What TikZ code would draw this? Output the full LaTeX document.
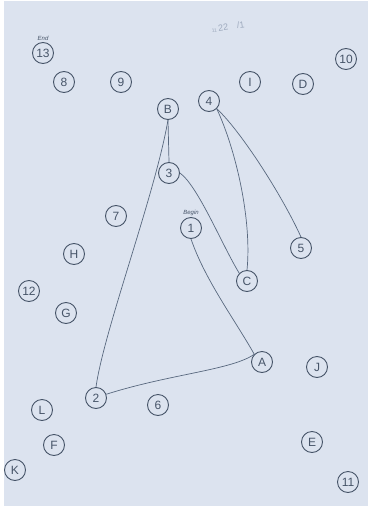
\documentclass[tikz,border=0pt]{standalone}
\usepackage{fontspec}
\setsansfont{Liberation Sans}
\usepackage{xcolor}
\usetikzlibrary{positioning}
\definecolor{papel}{RGB}{220,227,239}
\definecolor{tinta}{RGB}{70,84,104}
\definecolor{lapis}{RGB}{88,104,126}
\definecolor{apagado}{RGB}{158,170,190}
\tikzset{
    circulo/.style={
        circle,
        draw=tinta,
        line width=0.9pt,
        minimum size=21pt,
        inner sep=0pt,
        text=tinta,
        font=\sffamily\fontsize{12}{12}\selectfont
    },
    rotulo/.style={font=\sffamily\itshape\fontsize{6}{6}\selectfont, text=tinta, inner sep=0.5pt},
    nota/.style={font=\sffamily\small, text=apagado, inner sep=0pt},
    traco/.style={draw=lapis, line width=0.7pt}
}

\begin{document}
\begin{tikzpicture}[x=1pt, y=-1pt]
        \fill[white] (0,0) rectangle (370,511);
        \fill[papel] (4,1) rectangle (368,506);

        \node[nota, rotate=8] (tempo) at (228,27) {{\tiny 11}\,22\quad /1};

        \node[circulo] (n13) at (43,53) {13};
        \node[rotulo, above=1pt of n13] (fim) {End};
        \node[circulo] (n8) at (64,82) {8};
        \node[circulo] (n9) at (121,82) {9};
        \node[circulo] (n10) at (346,59) {10};
        \node[circulo] (nI) at (250,82) {I};
        \node[circulo] (nD) at (303,84) {D};
        \node[circulo] (nB) at (168,109) {B};
        \node[circulo] (n4) at (209,101) {4};
        \node[circulo] (n3) at (169,173) {3};
        \node[circulo] (n7) at (116,216) {7};
        \node[circulo] (n1) at (191,228) {1};
        \node[rotulo, above=1pt of n1] (inicio) {Begin};
        \node[circulo] (nH) at (74,254) {H};
        \node[circulo] (n5) at (301,248) {5};
        \node[circulo] (nC) at (247,281) {C};
        \node[circulo] (n12) at (29,291) {12};
        \node[circulo] (nG) at (66,313) {G};
        \node[circulo] (nA) at (262,362) {A};
        \node[circulo] (nJ) at (317,367) {J};
        \node[circulo] (n2) at (96,398) {2};
        \node[circulo] (n6) at (158,405) {6};
        \node[circulo] (nL) at (42,410) {L};
        \node[circulo] (nF) at (54,445) {F};
        \node[circulo] (nE) at (312,442) {E};
        \node[circulo] (nK) at (15,470) {K};
        \node[circulo] (n11) at (348,482) {11};

        \draw[traco] (n1.south) .. controls (205,280) and (235,320) .. (nA.north west);
        \draw[traco] (nA.north west) .. controls (232,370) and (170,374) .. (n2.20);
        \draw[traco] (n2.north) .. controls (104,330) and (155,195) .. (nB.south);
        \draw[traco] (nB.south) -- (n3.north);
        \draw[traco] (n3.east) .. controls (198,186) and (222,245) .. (nC.north west);
        \draw[traco] (nC.north) .. controls (252,220) and (236,150) .. (n4.-45);
        \draw[traco] (n4.-45) .. controls (240,130) and (282,195) .. (n5.north);
    \end{tikzpicture}
\end{document}
